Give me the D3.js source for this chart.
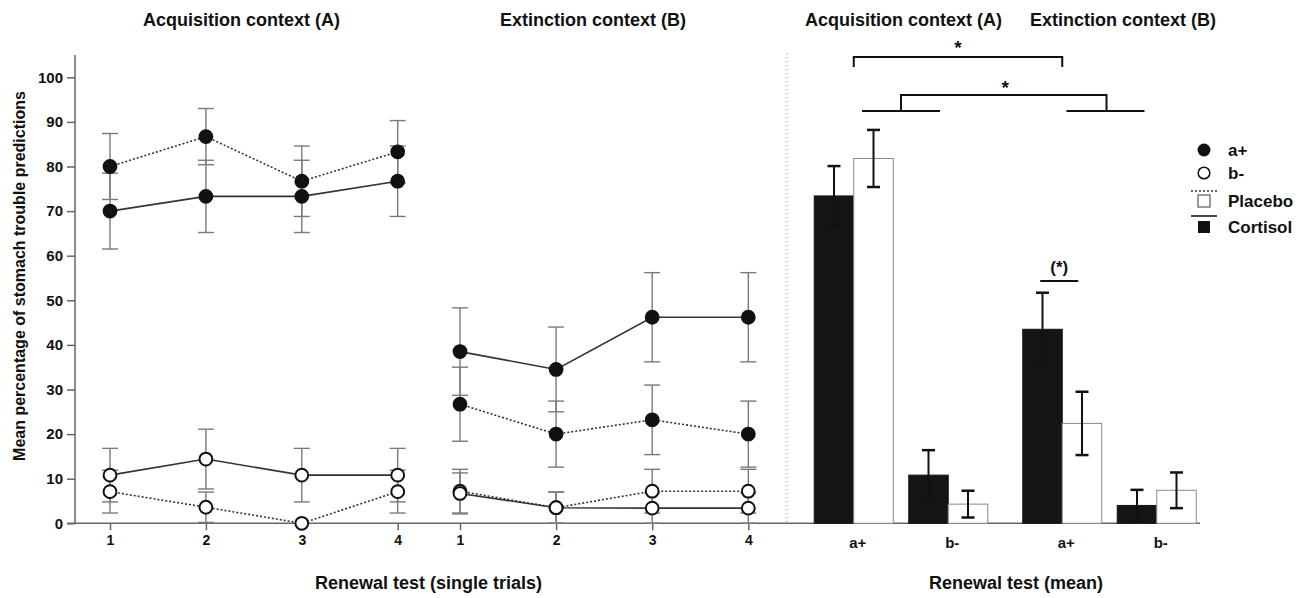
<!DOCTYPE html>
<html>
<head>
<meta charset="utf-8">
<script src="https://cdn.jsdelivr.net/npm/d3@7"></script>
<style>
  html, body { margin: 0; padding: 0; background: #fff; }
  svg { display: block; font-family: "Liberation Sans", Arial, sans-serif; font-weight: bold; }
</style>
</head>
<body>
<svg id="chart" width="1309" height="598"></svg>
<script>
// ---------- DATA ----------
const trials = [1, 2, 3, 4];
const yTicks = [0, 10, 20, 30, 40, 50, 60, 70, 80, 90, 100];

// Acquisition context (A), single trials
const acqAplusPlacebo     = [80.0, 86.7, 76.7, 83.3];
const acqAplusPlaceboSE   = [7.4, 6.3, 7.9, 7.0];
const acqAplusCortisol    = [70.0, 73.3, 73.3, 76.7];
const acqAplusCortisolSE  = [8.5, 8.1, 8.1, 7.9];
const acqBminusPlacebo    = [7.1, 3.6, 0.0, 7.1];
const acqBminusPlaceboSE  = [4.8, 3.4, 0.0, 4.8];
const acqBminusCortisol   = [10.8, 14.4, 10.8, 10.8];
const acqBminusCortisolSE = [6.0, 6.7, 6.0, 6.0];

// Extinction context (B), single trials
const extAplusPlacebo     = [26.7, 20.0, 23.2, 20.0];
const extAplusPlaceboSE   = [8.3, 7.4, 7.8, 7.4];
const extAplusCortisol    = [38.5, 34.5, 46.2, 46.2];
const extAplusCortisolSE  = [9.8, 9.5, 10.0, 10.0];
const extBminusPlacebo    = [7.2, 3.5, 7.2, 7.2];
const extBminusPlaceboSE  = [4.9, 3.5, 4.9, 4.9];
const extBminusCortisol   = [6.7, 3.5, 3.4, 3.4];
const extBminusCortisolSE = [4.6, 3.5, 3.4, 3.4];

// Renewal test (mean): order A a+, A b-, B a+, B b-
const contexts = ["A", "B"];
const contextTitles = ["Acquisition context (A)", "Extinction context (B)"];
const stimuli = ["a+", "b-"];
const groups = ["Cortisol", "Placebo"];
const meanCortisol   = [73.4, 10.8, 43.5, 4.0];
const meanCortisolSE = [6.7, 5.6, 8.2, 3.5];
const meanPlacebo    = [81.8, 4.3, 22.4, 7.4];
const meanPlaceboSE  = [6.4, 3.0, 7.1, 4.0];

// ---------- CHART ----------
const svg = d3.select("#chart");
const FF = "Liberation Sans, Arial, sans-serif";
const y = d3.scaleLinear().domain([0, 100]).range([523.3, 77.3]);
const xLeft = d3.scalePoint().domain(trials).range([110, 397.7]);
const xMid  = d3.scalePoint().domain(trials).range([460, 748.3]);
const xCtx  = d3.scaleBand().domain(contexts).range([806.5, 1204]).paddingInner(0.0935).paddingOuter(0);
const xStim = d3.scaleBand().domain(stimuli).range([0, xCtx.bandwidth()]).paddingInner(0.164).paddingOuter(0.082);
const xGrp  = d3.scaleBand().domain(groups).range([0, xStim.bandwidth()]);

const ink = "#111";
const axisCol = "#666";

// Y axis
const yAxis = svg.append("g").attr("transform", "translate(75,0)")
  .call(d3.axisLeft(y).tickValues(yTicks).tickSize(8).tickPadding(4));
yAxis.select(".domain").remove();
yAxis.selectAll(".tick line").attr("stroke", axisCol).attr("stroke-width", 1.5);
yAxis.selectAll(".tick text").attr("fill", ink).style("font-size", "15px").style("font-weight", "bold")
  .style("font-family", FF);
svg.append("line").attr("x1", 75).attr("x2", 75).attr("y1", y(105)).attr("y2", y(0))
  .attr("stroke", axisCol).attr("stroke-width", 1.5);

// baseline
svg.append("line").attr("x1", 67).attr("x2", 1200).attr("y1", y(0)).attr("y2", y(0))
  .attr("stroke", axisCol).attr("stroke-width", 1.5);

// X axes for the single-trial panels
[xLeft, xMid].forEach(sc => {
  const g = svg.append("g").attr("transform", `translate(0,${y(0)})`)
    .call(d3.axisBottom(sc).tickSize(7).tickPadding(5));
  g.select(".domain").remove();
  g.selectAll(".tick line").attr("stroke", axisCol).attr("stroke-width", 1.5);
  g.selectAll(".tick text").attr("fill", ink).style("font-size", "14px").style("font-weight", "bold")
    .style("font-family", FF);
});

// Dotted separator
svg.append("line").attr("x1", 787).attr("x2", 787).attr("y1", 53).attr("y2", y(0))
  .attr("stroke", "#888").attr("stroke-width", 1).attr("stroke-dasharray", "1,3");

function drawSeries(sc, vals, se, dashed) {
  const g = svg.append("g");
  const cw = 8;
  trials.forEach((t, i) => {
    if (se[i] <= 0) return;
    const cx = sc(t), lo = Math.max(0, vals[i] - se[i]), hi = vals[i] + se[i];
    g.append("line").attr("x1", cx).attr("x2", cx).attr("y1", y(lo)).attr("y2", y(hi))
      .attr("stroke", "#7a7a7a").attr("stroke-width", 1.4);
    [lo, hi].forEach(v => g.append("line").attr("x1", cx - cw).attr("x2", cx + cw)
      .attr("y1", y(v)).attr("y2", y(v)).attr("stroke", "#7a7a7a").attr("stroke-width", 1.4));
  });
  const line = d3.line().x((d, i) => sc(trials[i])).y(d => y(d));
  g.append("path").datum(vals).attr("d", line).attr("fill", "none")
    .attr("stroke", "#333").attr("stroke-width", 1.6)
    .attr("stroke-dasharray", dashed ? "2,2" : null);
}
function drawMarkers(sc, vals, filled) {
  svg.append("g").selectAll("circle").data(vals).join("circle")
    .attr("cx", (d, i) => sc(trials[i])).attr("cy", d => y(d)).attr("r", 6.4)
    .attr("fill", filled ? ink : "#fff").attr("stroke", ink).attr("stroke-width", 2);
}

drawSeries(xLeft, acqAplusPlacebo, acqAplusPlaceboSE, true);
drawSeries(xLeft, acqAplusCortisol, acqAplusCortisolSE, false);
drawSeries(xLeft, acqBminusPlacebo, acqBminusPlaceboSE, true);
drawSeries(xLeft, acqBminusCortisol, acqBminusCortisolSE, false);
drawSeries(xMid, extAplusPlacebo, extAplusPlaceboSE, true);
drawSeries(xMid, extAplusCortisol, extAplusCortisolSE, false);
drawSeries(xMid, extBminusPlacebo, extBminusPlaceboSE, true);
drawSeries(xMid, extBminusCortisol, extBminusCortisolSE, false);

drawMarkers(xLeft, acqAplusPlacebo, true);
drawMarkers(xLeft, acqAplusCortisol, true);
drawMarkers(xLeft, acqBminusPlacebo, false);
drawMarkers(xLeft, acqBminusCortisol, false);
drawMarkers(xMid, extAplusPlacebo, true);
drawMarkers(xMid, extAplusCortisol, true);
drawMarkers(xMid, extBminusPlacebo, false);
drawMarkers(xMid, extBminusCortisol, false);

// Bars
const barData = [];
contexts.forEach((c, ci) => stimuli.forEach((s, si) => {
  const k = ci * 2 + si;
  barData.push({ c, s, g: "Cortisol", v: meanCortisol[k], se: meanCortisolSE[k] });
  barData.push({ c, s, g: "Placebo", v: meanPlacebo[k], se: meanPlaceboSE[k] });
}));
const bx = d => xCtx(d.c) + xStim(d.s) + xGrp(d.g);
svg.append("g").selectAll("rect").data(barData).join("rect")
  .attr("x", d => bx(d)).attr("width", xGrp.bandwidth())
  .attr("y", d => y(d.v)).attr("height", d => y(0) - y(d.v))
  .attr("fill", d => d.g === "Cortisol" ? "#151515" : "#fff")
  .attr("stroke", d => d.g === "Cortisol" ? "#151515" : "#888").attr("stroke-width", 1);
const eb = svg.append("g");
barData.forEach(d => {
  const cx = bx(d) + xGrp.bandwidth() / 2;
  const lo = Math.max(0, d.v - d.se), hi = d.v + d.se;
  eb.append("line").attr("x1", cx).attr("x2", cx).attr("y1", y(lo)).attr("y2", y(hi))
    .attr("stroke", ink).attr("stroke-width", 2);
  [lo, hi].forEach(v => eb.append("line").attr("x1", cx - 6.5).attr("x2", cx + 6.5)
    .attr("y1", y(v)).attr("y2", y(v)).attr("stroke", ink).attr("stroke-width", 2.5));
});

// Bar category labels
barData.filter(d => d.g === "Cortisol").forEach(d => {
  svg.append("text").attr("x", xCtx(d.c) + xStim(d.s) + xStim.bandwidth() / 2 + 4).attr("y", 548)
    .attr("text-anchor", "middle").attr("fill", ink).style("font-size", "15px").text(d.s);
});

// Significance brackets
const aCenterA = xCtx("A") + xStim("a+") + xStim.bandwidth() / 2;
const aCenterB = xCtx("B") + xStim("a+") + xStim.bandwidth() / 2;
const brk = svg.append("g").attr("stroke", ink).attr("stroke-width", 2).attr("fill", "none");
brk.append("path").attr("d", `M${aCenterA},67 V57 H${aCenterB} V67`);
const ctxCA = xCtx("A") + xCtx.bandwidth() / 2, ctxCB = xCtx("B") + xCtx.bandwidth() / 2;
brk.append("path").attr("d", `M${ctxCA},111 V95 H${ctxCB - 3} V111`);
brk.append("line").attr("x1", ctxCA - 39).attr("x2", ctxCA + 39).attr("y1", 111).attr("y2", 111);
brk.append("line").attr("x1", ctxCB - 43).attr("x2", ctxCB + 35).attr("y1", 111).attr("y2", 111);
brk.append("line").attr("x1", aCenterB - 22).attr("x2", aCenterB + 16).attr("y1", 281).attr("y2", 281);
svg.append("text").attr("x", (aCenterA + aCenterB) / 2).attr("y", 54).attr("text-anchor", "middle")
  .attr("fill", ink).style("font-size", "19px").text("*");
svg.append("text").attr("x", (ctxCA + ctxCB) / 2).attr("y", 94).attr("text-anchor", "middle")
  .attr("fill", ink).style("font-size", "19px").text("*");
svg.append("text").attr("x", aCenterB - 3).attr("y", 273).attr("text-anchor", "middle")
  .attr("fill", ink).style("font-size", "17px").text("(*)");

// Titles
const titles = [
  { t: contextTitles[0], x: 143 }, { t: contextTitles[1], x: 500 },
  { t: contextTitles[0], x: 805 }, { t: contextTitles[1], x: 1030 }
];
titles.forEach(d => svg.append("text").attr("x", d.x).attr("y", 26)
  .attr("fill", ink).style("font-size", "18px").text(d.t));

svg.append("text").attr("x", 315).attr("y", 589)
  .attr("fill", ink).style("font-size", "18px").text("Renewal test (single trials)");
svg.append("text").attr("x", 929).attr("y", 589)
  .attr("fill", ink).style("font-size", "18px").text("Renewal test (mean)");
svg.append("text").attr("transform", "translate(25,276) rotate(-90)").attr("text-anchor", "middle")
  .attr("fill", ink).style("font-size", "16px").text("Mean percentage of stomach trouble predictions");

// Legend
const lg = svg.append("g");
lg.append("circle").attr("cx", 1204).attr("cy", 150).attr("r", 6.5).attr("fill", ink);
lg.append("circle").attr("cx", 1204).attr("cy", 173).attr("r", 5.8).attr("fill", "#fff").attr("stroke", ink).attr("stroke-width", 1.5);
lg.append("line").attr("x1", 1191).attr("x2", 1217).attr("y1", 191).attr("y2", 191).attr("stroke", "#333").attr("stroke-width", 1.5).attr("stroke-dasharray", "2,2");
lg.append("rect").attr("x", 1198).attr("y", 195).attr("width", 12).attr("height", 12).attr("fill", "#fff").attr("stroke", "#666").attr("stroke-width", 1.3);
lg.append("line").attr("x1", 1191).attr("x2", 1217).attr("y1", 216).attr("y2", 216).attr("stroke", "#333").attr("stroke-width", 1.8);
lg.append("rect").attr("x", 1198).attr("y", 221).attr("width", 12).attr("height", 12).attr("fill", ink);
[["a+", 156], ["b-", 179], ["Placebo", 207], ["Cortisol", 233]].forEach(([t, yy]) =>
  lg.append("text").attr("x", 1228).attr("y", yy).attr("fill", ink).style("font-size", "17px").text(t));
</script>
</body>
</html>
